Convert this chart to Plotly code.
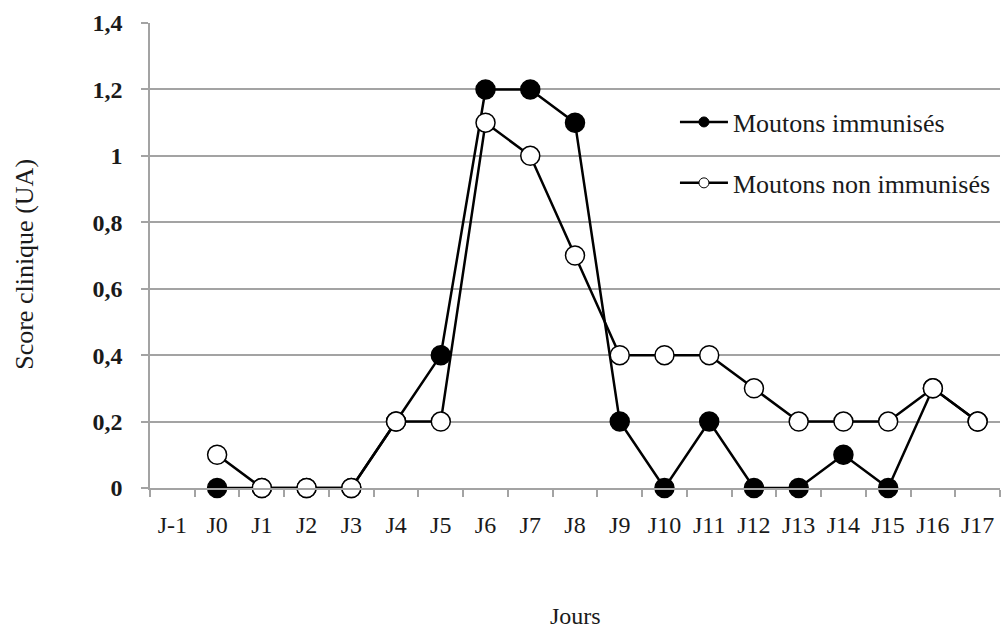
import plotly.graph_objects as go

days = ["J-1", "J0", "J1", "J2", "J3", "J4", "J5", "J6", "J7", "J8",
        "J9", "J10", "J11", "J12", "J13", "J14", "J15", "J16", "J17"]
immunises = [None, 0, 0, 0, 0, 0.2, 0.4, 1.2, 1.2, 1.1,
             0.2, 0, 0.2, 0, 0, 0.1, 0, 0.3, 0.2]
non_immunises = [None, 0.1, 0, 0, 0, 0.2, 0.2, 1.1, 1.0, 0.7,
                 0.4, 0.4, 0.4, 0.3, 0.2, 0.2, 0.2, 0.3, 0.2]
y_ticks = [0, 0.2, 0.4, 0.6, 0.8, 1.0, 1.2, 1.4]
y_labels = ["0", "0,2", "0,4", "0,6", "0,8", "1", "1,2", "1,4"]
names = ["Moutons immunisés", "Moutons non immunisés"]
x_title = "Jours"
y_title = "Score clinique (UA)"

SERIF = "Liberation Serif, Times New Roman, serif"
GRID = "#a3a3a3"
TXT = "#1a1a1a"

fig = go.Figure()
fig.add_trace(go.Scatter(
    x=days, y=immunises, mode="lines+markers", name=names[0], showlegend=False,
    line=dict(color="black", width=2.5), cliponaxis=False,
    marker=dict(size=19, color="black", line=dict(color="black", width=1.5))))
fig.add_trace(go.Scatter(
    x=days, y=non_immunises, mode="lines+markers", name=names[1], showlegend=False,
    line=dict(color="black", width=2.5), cliponaxis=False,
    marker=dict(size=19, color="white", line=dict(color="black", width=1.5))))

# legend-only entries with small markers
fig.add_trace(go.Scatter(
    x=[None], y=[None], mode="lines+markers", name=names[0], legend="legend",
    line=dict(color="black", width=2.5),
    marker=dict(size=10, color="black", line=dict(color="black", width=1))))
fig.add_trace(go.Scatter(
    x=[None], y=[None], mode="lines+markers", name=names[1], legend="legend2",
    line=dict(color="black", width=2.5),
    marker=dict(size=10, color="white", line=dict(color="black", width=1))))

fig.add_shape(type="rect", xref="paper", yref="paper",
              x0=0.606, x1=1.0, y0=0.62, y1=0.877,
              fillcolor="white", line=dict(width=0), layer="between")

fig.add_annotation(text=x_title, xref="paper", yref="paper", x=0.5, y=-0.2753,
                   xanchor="center", yanchor="middle", showarrow=False,
                   font=dict(size=24, family=SERIF, color=TXT))
fig.add_annotation(text=y_title, xref="paper", yref="paper", x=-0.1485, y=0.4817,
                   xanchor="center", yanchor="middle", showarrow=False, textangle=-90,
                   font=dict(size=26, family=SERIF, color=TXT))

fig.update_layout(
    width=1006, height=630,
    margin=dict(l=150, r=6, t=23, b=142, autoexpand=False),
    paper_bgcolor="white", plot_bgcolor="white",
    font=dict(family=SERIF, color=TXT, size=22),
    legend=dict(x=0.6176, y=0.787, xanchor="left", yanchor="middle",
                bgcolor="rgba(0,0,0,0)", font=dict(size=26, family=SERIF, color=TXT),
                itemwidth=48),
    legend2=dict(x=0.6176, y=0.656, xanchor="left", yanchor="middle",
                 bgcolor="rgba(0,0,0,0)", font=dict(size=26, family=SERIF, color=TXT),
                 itemwidth=48),
    xaxis=dict(
        type="category", categoryorder="array", categoryarray=days,
        range=[-0.5, len(days) - 0.5], tickson="boundaries", automargin=False,
        showgrid=False, showline=True, linecolor=GRID, linewidth=1.5,
        ticks="outside", ticklen=7, tickcolor=GRID, tickwidth=1.5,
        ticklabelstandoff=14, tickangle=0,
        tickfont=dict(size=24, family=SERIF, color=TXT),
        zeroline=False, fixedrange=True),
    yaxis=dict(
        range=[0, 1.4], tickvals=y_ticks, ticktext=y_labels, automargin=False,
        showgrid=True, gridcolor=GRID, gridwidth=1.5,
        showline=True, linecolor=GRID, linewidth=1.5,
        ticks="outside", ticklen=7, tickcolor=GRID, tickwidth=1.5,
        ticklabelstandoff=14,
        tickfont=dict(size=24, family=SERIF, color=TXT, weight="bold"),
        zeroline=False, fixedrange=True),
)

fig.write_html("out.html", config={"displayModeBar": False},
               post_script="document.body.style.margin='0px';")
